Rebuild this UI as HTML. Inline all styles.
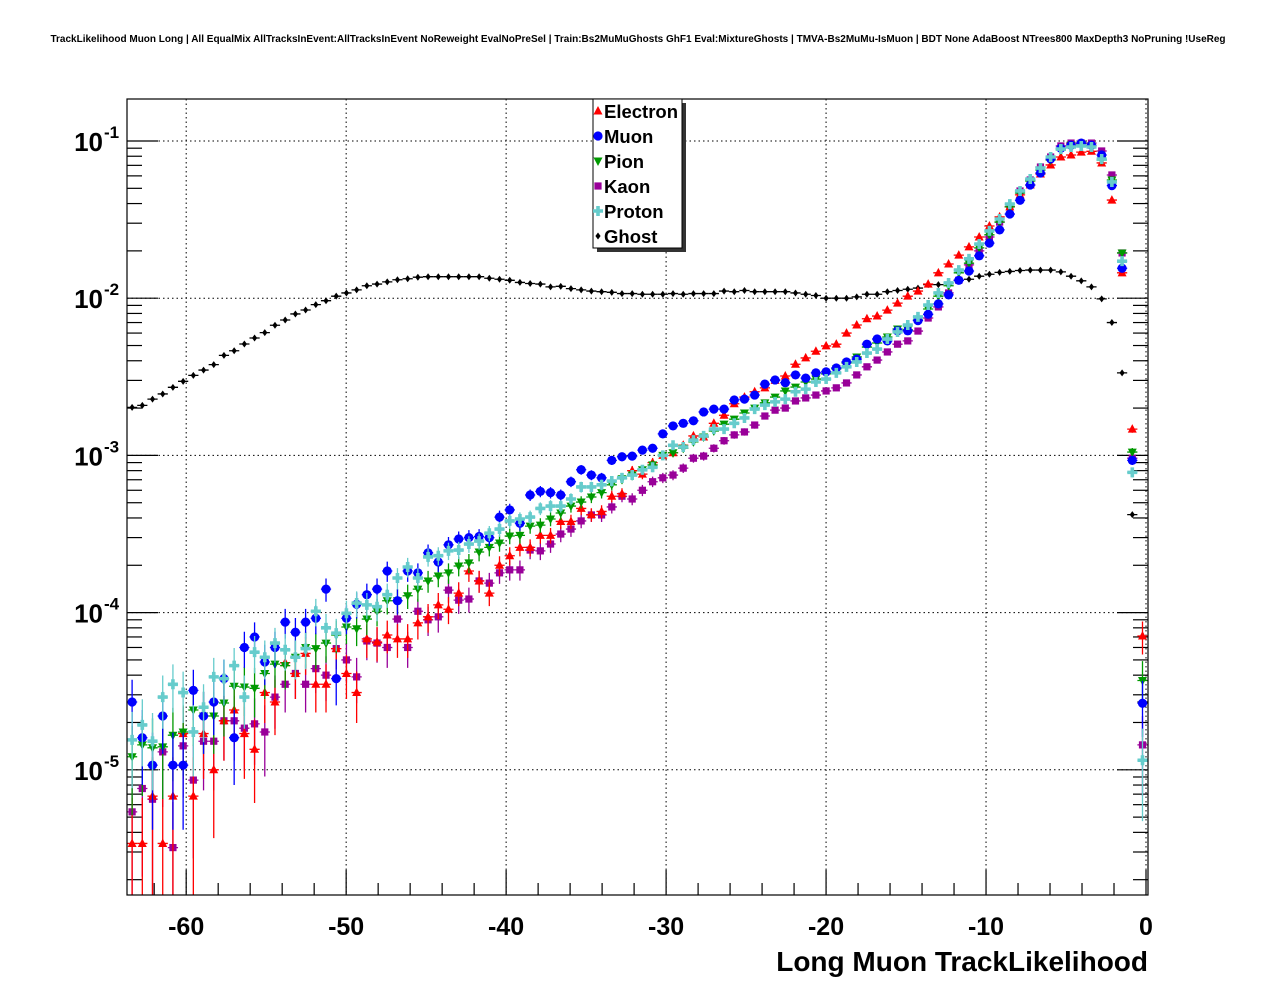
<!DOCTYPE html>
<html><head><meta charset="utf-8"><style>
html,body{margin:0;padding:0;background:#fff;overflow:hidden;width:1276px;height:996px;}
svg{display:block;font-family:"Liberation Sans",sans-serif;}
</style></head><body>
<svg id="c" width="1276" height="996" viewBox="0 0 1276 996" xmlns="http://www.w3.org/2000/svg">
<rect width="1276" height="996" fill="#fff"/>
<text x="638" y="42" text-anchor="middle" font-size="10" font-weight="bold">TrackLikelihood Muon Long | All EqualMix AllTracksInEvent:AllTracksInEvent NoReweight EvalNoPreSel | Train:Bs2MuMuGhosts GhF1 Eval:MixtureGhosts | TMVA-Bs2MuMu-IsMuon | BDT None AdaBoost NTrees800 MaxDepth3 NoPruning !UseReg</text>
<defs><clipPath id="fr"><rect x="127" y="99" width="1021" height="796"/></clipPath></defs>
<g id="grid"></g>
<g id="axes"></g>
<g id="data" clip-path="url(#fr)"></g>
<rect x="127" y="99" width="1021" height="796" fill="none" stroke="#000" stroke-width="1.2"/>
<text x="1148" y="971" text-anchor="end" font-size="28" font-weight="bold">Long Muon TrackLikelihood</text>
<g id="legend"></g>
</svg>
<script>
const categoriesStart = -63.7;
const binWidth = 0.638;
const electron = [3.4e-6,3.4e-6,6.8e-6,3.4e-6,6.8e-6,1.7e-5,6.8e-6,1.7e-5,1.0e-5,2.05e-5,
2.4e-5,1.7e-5,1.35e-5,3.1e-5,2.7e-5,4.8e-5,4.1e-5,5.5e-5,3.5e-5,3.5e-5,
5.9e-5,4.1e-5,3.1e-5,6.8e-5,6.5e-5,7.2e-5,6.8e-5,6.8e-5,8.6e-5,9.4e-5,
1.12e-4,1.05e-4,1.33e-4,1.84e-4,1.59e-4,1.33e-4,2.0e-4,2.3e-4,2.6e-4,2.6e-4,
3.1e-4,3.1e-4,3.8e-4,3.8e-4,4.6e-4,4.2e-4,4.4e-4,5.5e-4,5.7e-4,8.0e-4,
7.6e-4,9.0e-4,1.0e-3,1.04e-3,1.16e-3,1.33e-3,1.31e-3,1.6e-3,1.8e-3,2.13e-3,
2.35e-3,2.54e-3,2.69e-3,3.0e-3,3.2e-3,3.8e-3,4.17e-3,4.6e-3,4.97e-3,5.1e-3,
6.0e-3,6.75e-3,7.4e-3,7.7e-3,8.4e-3,9.3e-3,1.03e-2,1.11e-2,1.23e-2,1.45e-2,
1.65e-2,1.88e-2,2.12e-2,2.45e-2,2.88e-2,3.29e-2,3.81e-2,4.54e-2,5.25e-2,6.17e-2,
7.04e-2,7.91e-2,8.15e-2,8.5e-2,8.6e-2,7.25e-2,4.21e-2,1.45e-2,1.47e-3,7.1e-5];
const muon = [2.7e-5,1.6e-5,1.07e-5,2.2e-5,1.07e-5,1.07e-5,3.2e-5,2.2e-5,2.7e-5,3.8e-5,
1.6e-5,6.0e-5,7.0e-5,4.85e-5,6.0e-5,8.7e-5,7.5e-5,8.7e-5,9.2e-5,1.41e-4,
3.8e-5,9.2e-5,1.13e-4,1.3e-4,1.41e-4,1.84e-4,1.19e-4,1.84e-4,1.79e-4,2.4e-4,
2.1e-4,2.7e-4,2.94e-4,3.0e-4,3.05e-4,3.0e-4,4.05e-4,4.5e-4,3.7e-4,5.6e-4,
5.9e-4,5.8e-4,5.6e-4,6.8e-4,8.1e-4,7.5e-4,7.2e-4,9.3e-4,9.8e-4,9.9e-4,
1.08e-3,1.11e-3,1.37e-3,1.54e-3,1.6e-3,1.66e-3,1.89e-3,1.97e-3,1.97e-3,2.25e-3,
2.28e-3,2.42e-3,2.84e-3,3.02e-3,2.9e-3,3.25e-3,3.1e-3,3.35e-3,3.4e-3,3.6e-3,
3.93e-3,4.1e-3,5.1e-3,5.5e-3,5.35e-3,6.2e-3,6.2e-3,7.2e-3,7.9e-3,9.2e-3,
1.05e-2,1.3e-2,1.49e-2,1.86e-2,2.24e-2,2.72e-2,3.43e-2,4.2e-2,5.25e-2,6.26e-2,
7.7e-2,9.0e-2,9.4e-2,9.7e-2,9.4e-2,8.15e-2,5.2e-2,1.55e-2,9.3e-4,2.65e-5];
const pion = [1.21e-5,1.44e-5,1.38e-5,1.4e-5,1.66e-5,1.74e-5,2.4e-5,2.2e-5,2.2e-5,2.66e-5,
3.4e-5,3.36e-5,3.3e-5,4.1e-5,4.7e-5,4.6e-5,5.2e-5,6.0e-5,5.9e-5,6.4e-5,
7.2e-5,8.1e-5,7.9e-5,9.1e-5,1.02e-4,1.19e-4,1.19e-4,1.28e-4,1.41e-4,1.59e-4,
1.71e-4,1.79e-4,1.98e-4,2.07e-4,2.43e-4,2.6e-4,2.77e-4,3.07e-4,3.1e-4,3.55e-4,
3.6e-4,3.94e-4,4.3e-4,4.76e-4,5.05e-4,5.44e-4,5.8e-4,6.5e-4,7.1e-4,7.5e-4,
8.1e-4,8.7e-4,1.0e-3,1.04e-3,1.11e-3,1.22e-3,1.31e-3,1.43e-3,1.58e-3,1.7e-3,
1.86e-3,2.0e-3,2.16e-3,2.35e-3,2.57e-3,2.72e-3,2.93e-3,3.06e-3,3.3e-3,3.55e-3,
3.87e-3,4.23e-3,4.89e-3,5.19e-3,5.66e-3,6.37e-3,6.3e-3,7.27e-3,8.54e-3,1.03e-2,
1.2e-2,1.45e-2,1.67e-2,2.09e-2,2.53e-2,3.05e-2,3.81e-2,4.67e-2,5.57e-2,6.54e-2,
7.57e-2,8.77e-2,9.43e-2,9.57e-2,9.3e-2,7.57e-2,5.65e-2,1.94e-2,1.05e-3,3.7e-5];
const kaon = [5.4e-6,7.6e-6,6.5e-6,1.3e-5,3.2e-6,1.42e-5,8.6e-6,1.52e-5,1.52e-5,2.05e-5,
2.05e-5,1.84e-5,1.96e-5,1.74e-5,2.9e-5,3.5e-5,4.1e-5,3.5e-5,4.4e-5,4.0e-5,
5.9e-5,5.0e-5,3.9e-5,6.6e-5,6.4e-5,6.0e-5,9.1e-5,6.0e-5,1.02e-4,9.0e-5,
9.4e-5,1.39e-4,1.2e-4,1.22e-4,1.59e-4,1.54e-4,1.79e-4,1.87e-4,1.87e-4,2.5e-4,
2.47e-4,2.73e-4,3.16e-4,3.4e-4,3.83e-4,4.18e-4,4.18e-4,4.7e-4,5.5e-4,5.28e-4,
6.0e-4,6.8e-4,7.2e-4,7.5e-4,8.3e-4,9.6e-4,9.9e-4,1.11e-3,1.24e-3,1.35e-3,
1.41e-3,1.56e-3,1.78e-3,1.94e-3,2.0e-3,2.22e-3,2.32e-3,2.42e-3,2.57e-3,2.69e-3,
2.89e-3,3.25e-3,3.66e-3,4.04e-3,4.55e-3,5.1e-3,5.35e-3,6.18e-3,7.48e-3,8.8e-3,
1.08e-2,1.3e-2,1.63e-2,2.0e-2,2.45e-2,3.05e-2,3.81e-2,4.81e-2,5.65e-2,6.83e-2,
7.91e-2,9.3e-2,9.7e-2,9.7e-2,9.7e-2,8.64e-2,6.08e-2,1.94e-2,9.6e-4,1.44e-5];
const proton = [1.55e-5,1.93e-5,1.52e-5,2.9e-5,3.5e-5,3.1e-5,1.74e-5,2.5e-5,3.9e-5,3.8e-5,
4.6e-5,2.9e-5,5.6e-5,5.2e-5,6.4e-5,5.8e-5,5.2e-5,5.9e-5,1.02e-4,8.0e-5,
7.4e-5,9.9e-5,1.15e-4,1.12e-4,1.09e-4,1.3e-4,1.66e-4,1.95e-4,1.66e-4,2.26e-4,
2.3e-4,2.47e-4,2.5e-4,2.73e-4,2.85e-4,3.2e-4,3.4e-4,3.83e-4,3.94e-4,4.05e-4,
4.6e-4,4.76e-4,4.76e-4,5.28e-4,6.3e-4,6.3e-4,6.5e-4,6.87e-4,7.2e-4,7.5e-4,
8.1e-4,8.4e-4,1.0e-3,1.16e-3,1.13e-3,1.25e-3,1.33e-3,1.47e-3,1.47e-3,1.6e-3,
1.73e-3,1.97e-3,2.09e-3,2.19e-3,2.28e-3,2.54e-3,2.64e-3,2.93e-3,3.06e-3,3.35e-3,
3.66e-3,3.93e-3,4.48e-3,4.75e-3,5.5e-3,6.1e-3,6.75e-3,7.6e-3,9.05e-3,1.08e-2,
1.25e-2,1.51e-2,1.78e-2,2.21e-2,2.68e-2,3.19e-2,3.97e-2,4.81e-2,5.73e-2,6.73e-2,
7.91e-2,8.89e-2,9.16e-2,9.3e-2,9.16e-2,7.68e-2,5.49e-2,1.72e-2,7.8e-4,1.15e-5];
const ghost = [2.02e-3,2.08e-3,2.28e-3,2.46e-3,2.71e-3,2.96e-3,3.23e-3,3.49e-3,3.78e-3,4.33e-3,
4.63e-3,5.11e-3,5.58e-3,6.04e-3,6.73e-3,7.27e-3,7.94e-3,8.41e-3,9.1e-3,9.64e-3,
1.03e-2,1.08e-2,1.13e-2,1.2e-2,1.23e-2,1.27e-2,1.31e-2,1.33e-2,1.36e-2,1.37e-2,
1.37e-2,1.37e-2,1.37e-2,1.37e-2,1.37e-2,1.34e-2,1.32e-2,1.30e-2,1.26e-2,1.24e-2,
1.23e-2,1.18e-2,1.19e-2,1.15e-2,1.13e-2,1.11e-2,1.10e-2,1.09e-2,1.07e-2,1.07e-2,
1.06e-2,1.06e-2,1.06e-2,1.07e-2,1.06e-2,1.07e-2,1.07e-2,1.07e-2,1.11e-2,1.10e-2,
1.12e-2,1.10e-2,1.10e-2,1.10e-2,1.10e-2,1.08e-2,1.06e-2,1.04e-2,1.0e-2,1.0e-2,
1.0e-2,1.02e-2,1.06e-2,1.06e-2,1.10e-2,1.12e-2,1.14e-2,1.16e-2,1.22e-2,1.22e-2,
1.25e-2,1.3e-2,1.32e-2,1.38e-2,1.42e-2,1.46e-2,1.48e-2,1.5e-2,1.51e-2,1.51e-2,
1.51e-2,1.47e-2,1.38e-2,1.29e-2,1.18e-2,9.9e-3,7.0e-3,3.35e-3,4.2e-4,2.7e-5];
const xTicks = [-60,-50,-40,-30,-20,-10,0];
const xTickLabels = ["-60","-50","-40","-30","-20","-10","0"];
const yDecades = [-1,-2,-3,-4,-5];
const yTickLabels = ["-1","-2","-3","-4","-5"];
const seriesNames = ["Electron","Muon","Pion","Kaon","Proton","Ghost"];

const NS="http://www.w3.org/2000/svg";
const X0=127,X1=1148,Y0=99,Y1=895, UMIN=-63.7, UMAX=0.125;
function xs(u){return X0+(u-UMIN)/(UMAX-UMIN)*(X1-X0);}
function ys(v){return 141-(Math.log10(v)+1)*157.2;}
function mk(tag,attrs,parent){const e=document.createElementNS(NS,tag);for(const k in attrs)e.setAttribute(k,attrs[k]);parent.appendChild(e);return e;}
const grid=document.getElementById('grid'),axes=document.getElementById('axes'),data=document.getElementById('data'),legend=document.getElementById('legend');

xTicks.forEach((t,i)=>{
  const x=xs(t);
  const gl=mk('line',{x1:x,x2:x,y1:Y0,y2:Y1,stroke:'#000','stroke-width':1,'stroke-dasharray':'1.5,3'},grid);
  
  
  const tk=mk('line',{x1:x,x2:x,y1:Y1,y2:Y1-25,stroke:'#000','stroke-width':1.2},axes);
  
  
  const lb=mk('text',{x:x,y:935,'text-anchor':'middle','font-size':25,'font-weight':'bold'},axes);
  lb.textContent=xTickLabels[i];
  
  
});
for(let u=-62;u<=0;u+=2){ if(u%10===0) continue;
  const x=xs(u);
  const tk=mk('line',{x1:x,x2:x,y1:Y1,y2:Y1-12,stroke:'#000','stroke-width':1.2},axes);
  
  
}
for(let d=-6;d<=-1;d++){
  for(let m=1;m<=9;m++){
    const y=ys(m*Math.pow(10,d));
    if(y<Y0||y>Y1) continue;
    const L=m===1?31:15;
    const t1=mk('line',{x1:X0,x2:X0+L,y1:y,y2:y,stroke:'#000','stroke-width':1.2},axes);
    
    
    const t2=mk('line',{x1:X1,x2:X1-L,y1:y,y2:y,stroke:'#000','stroke-width':1.2},axes);
    
    
  }
}
yDecades.forEach((d,i)=>{
  const y=ys(Math.pow(10,d));
  const gl=mk('line',{x1:X0,x2:X1,y1:y,y2:y,stroke:'#000','stroke-width':1,'stroke-dasharray':'1.5,3'},grid);
  
  
  const t=mk('text',{x:103,y:y+10,'text-anchor':'end','font-size':26,'font-weight':'bold'},axes);
  t.textContent='10';
  
  
  const s=mk('text',{x:104,y:y-3,'text-anchor':'start','font-size':17,'font-weight':'bold'},axes);
  s.textContent=yTickLabels[i];
  
  
});

const colors={Electron:'#ff0000',Muon:'#0000ff',Pion:'#009900',Kaon:'#990099',Proton:'#66cccc',Ghost:'#000000'};
function marker(type,x,y,c,parent){
  let e;
  if(type==='Electron') e=mk('polygon',{points:`${x},${y-5} ${x-4.5},${y+3.5} ${x+4.5},${y+3.5}`,fill:c},parent);
  else if(type==='Muon') e=mk('circle',{cx:x,cy:y,r:4.6,fill:c},parent);
  else if(type==='Pion') e=mk('polygon',{points:`${x},${y+5} ${x-4.5},${y-3.5} ${x+4.5},${y-3.5}`,fill:c},parent);
  else if(type==='Kaon') e=mk('rect',{x:x-3.6,y:y-3.6,width:7.2,height:7.2,fill:c},parent);
  else if(type==='Proton') e=mk('path',{d:`M${x-1.8},${y-5}h3.6v3.2h3.2v3.6h-3.2v3.2h-3.6v-3.2h-3.2v-3.6h3.2z`,fill:c},parent);
  else e=mk('polygon',{points:`${x},${y-3.5} ${x+2.6},${y} ${x},${y+3.5} ${x-2.6},${y}`,fill:c},parent);
  return e;
}
const seriesData={Electron:electron,Muon:muon,Pion:pion,Kaon:kaon,Proton:proton,Ghost:ghost};
const order=["Ghost","Kaon","Electron","Pion","Muon","Proton"];
order.forEach(name=>{
  const arr=seriesData[name], c=colors[name];
  const g=mk('g',{},data);
  
  
  arr.forEach((v,i)=>{
    if(!(v>0)) return;
    const u=categoriesStart+binWidth*(i+0.5);
    const x=xs(u), y=ys(v);
    const hw=(xs(categoriesStart+binWidth)-xs(categoriesStart))/2;
    const rel=name==='Ghost'?0.01:Math.min(0.95,Math.sqrt(4e-6/v));
    const yt=ys(v*(1+rel)), yb=ys(Math.max(v*(1-rel),1e-7));
    const eb=mk('path',{d:`M${x-hw},${y}H${x+hw}M${x},${yt}V${yb}`,stroke:c,'stroke-width':1.3,fill:'none'},g);
    
    
    const m=marker(name,x,y,c,g);
    
    
  });
});

const sh=mk('rect',{x:597,y:103,width:89,height:149,fill:'#333'},legend);


const lbx=mk('rect',{x:593,y:99,width:89,height:149,fill:'#fff',stroke:'#000','stroke-width':1},legend);


seriesNames.forEach((n,i)=>{
  const y=111+25*i;
  const g=mk('g',{},legend);
  
  
  const m=marker(n,598,y,colors[n],g);
  
  
  const t=mk('text',{x:604,y:y+7,'font-size':18.5,'font-weight':'bold'},g);
  t.textContent=n;
  
  
});
</script>
</body></html>
